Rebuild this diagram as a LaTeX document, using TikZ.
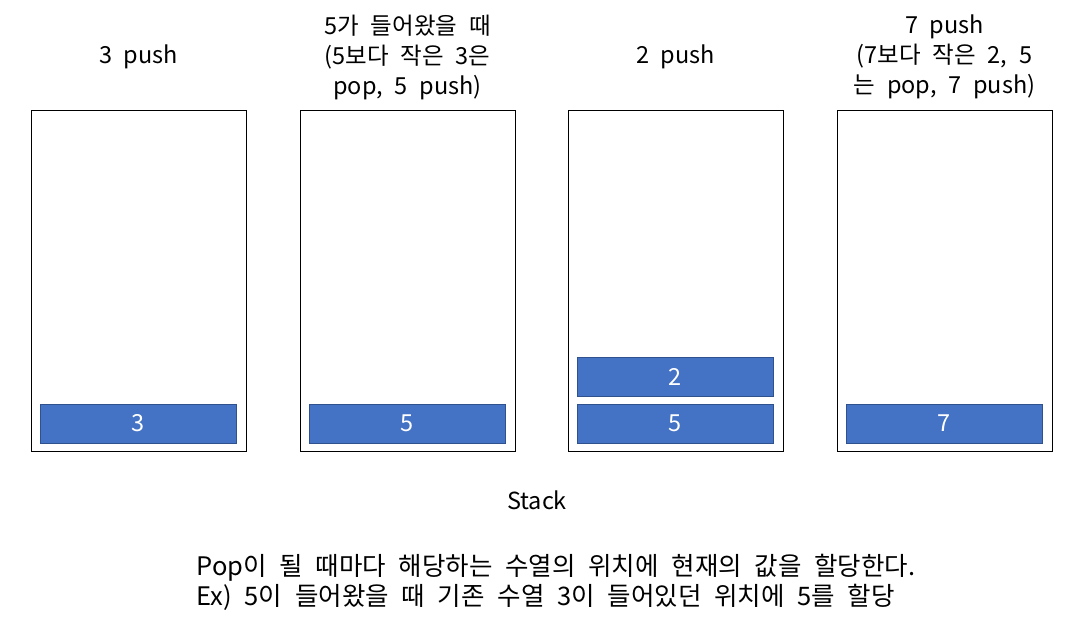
\documentclass[tikz,border=0pt]{standalone}
\usepackage{fontspec}
\setmainfont{Noto Sans CJK KR}
\usetikzlibrary{positioning}
\definecolor{barblue}{HTML}{4472C4}
\definecolor{barline}{HTML}{2F528F}
\newcommand{\widefont}{\fontsize{23.5}{30}\selectfont\spaceskip=0.5em\relax}
\newcommand{\notefont}{\fontsize{25.5}{30}\selectfont\spaceskip=0.5em\relax}
\tikzset{stackbox/.style={draw=black,thin,minimum width=215pt,minimum height=341pt,inner sep=0pt},
  bar/.style={draw=barline,fill=barblue,text=white,minimum width=196pt,minimum height=39pt,
    inner sep=0pt,font=\widefont},
  title/.style={align=center,font=\widefont},
  note/.style={align=left,font=\notefont}}

\begin{document}
\begin{tikzpicture}[x=1pt,y=-1pt]
\useasboundingbox (0,0) rectangle (1070,619);
\node[stackbox] (s1) at (138.5,280.5) {};
\node[stackbox] (s2) at (407.5,280.5) {};
\node[stackbox] (s3) at (675.5,280.5) {};
\node[stackbox] (s4) at (944.5,280.5) {};
\node[bar] (b1) at (138.5,423.5) {3};
\node[bar] (b2) at (407.5,423.5) {5};
\node[bar] (b3) at (675.5,423.5) {5};
\node[bar] (b3top) at (675.5,376.5) {2};
\node[bar] (b4) at (944.5,423.5) {7};
\node[title] (t1) at (138.5,57) {3 push};
\node[title] (t2) at (407.5,57) {5가 들어왔을 때\\(5보다 작은 3은\\pop, 5 push)};
\node[title] (t3) at (675.5,57) {2 push};
\node[title] (t4) at (944.5,57) {7 push\\(7보다 작은 2, 5\\는 pop, 7 push)};
\node[title] (stack) at (537,500) {Stack};
\node[note,anchor=west] (ex) at (193,582) {Pop이 될 때마다 해당하는 수열의 위치에 현재의 값을 할당한다.\\Ex) 5이 들어왔을 때 기존 수열 3이 들어있던 위치에 5를 할당};
\end{tikzpicture}
\end{document}
